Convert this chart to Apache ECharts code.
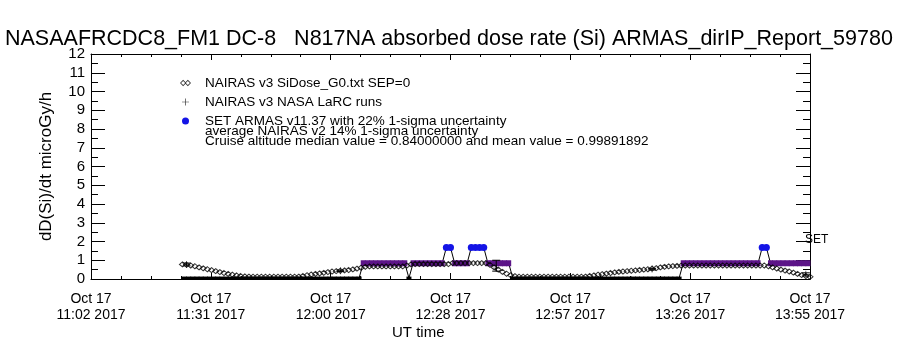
<!DOCTYPE html>
<html>
<head>
<meta charset="utf-8" />
<title>ARMAS dose rate</title>
<script src="https://cdn.jsdelivr.net/npm/echarts@6/dist/echarts.min.js"></script>
<style>
  html, body { margin: 0; padding: 0; background: #fff; }
  #chart { width: 900px; height: 350px; }
</style>
</head>
<body>
<div id="chart"></div>
<script>
// x values are minutes after 11:02 UT
var xTickLabels = ['Oct 17\n11:02 2017', 'Oct 17\n11:31 2017', 'Oct 17\n12:00 2017', 'Oct 17\n12:28 2017',
  'Oct 17\n12:57 2017', 'Oct 17\n13:26 2017', 'Oct 17\n13:55 2017'];
var xSpan = 173;

// NAIRAS v3 SiDose_G0 (one value per minute from minute 22)
var g0Start = 22;
var g0Values = [
  0.78, 0.76, 0.72, 0.68, 0.62, 0.57, 0.52, 0.47, 0.42, 0.37, 0.32, 0.27, 0.23, 0.19, 0.16, 0.14, 0.13,
  0.12, 0.12, 0.12, 0.12, 0.12, 0.12, 0.12, 0.12, 0.12, 0.12, 0.12,
  0.13, 0.16, 0.2, 0.24, 0.27, 0.3, 0.33, 0.37, 0.4, 0.42, 0.44, 0.46, 0.48, 0.51, 0.55, 0.6, 0.65,
  0.67, 0.67, 0.67, 0.67, 0.67, 0.67, 0.67, 0.67, 0.67, 0.72, 0.78,
  0.8, 0.8, 0.8, 0.8, 0.8, 0.8, 0.8, 0.8, 0.8,
  0.85, 0.85, 0.85, 0.85, 0.85, 0.85, 0.85, 0.85, 0.85,
  0.75, 0.62, 0.5, 0.38, 0.28, 0.2, 0.15,
  0.12, 0.12, 0.12, 0.12, 0.12, 0.12, 0.12, 0.12, 0.12, 0.12, 0.12, 0.12, 0.12, 0.12, 0.12, 0.12,
  0.13, 0.16, 0.19, 0.23, 0.26, 0.29, 0.32, 0.35, 0.38, 0.4, 0.42, 0.44, 0.46, 0.48, 0.5, 0.52,
  0.55, 0.58, 0.62, 0.65, 0.67, 0.69, 0.7, 0.71,
  0.72, 0.72, 0.72, 0.72, 0.72, 0.72, 0.72, 0.72, 0.72, 0.72, 0.72, 0.72, 0.72, 0.72, 0.72, 0.72, 0.72, 0.72, 0.72, 0.72,
  0.68, 0.62, 0.56, 0.5, 0.45, 0.4, 0.34, 0.27, 0.21, 0.16, 0.12
];

// NAIRAS v3 NASA LaRC runs
var larcTime = [23, 60, 97.5, 135, 172];
var larcValue = [0.78, 0.44, 0.58, 0.53, 0.25];
var larcLow = [0.7, 0.4, 0.42, 0.48, 0.16];
var larcHigh = [0.85, 0.48, 1.0, 0.57, 0.33];

// SET ARMAS readings (one per minute from minute 22.5)
var setStart = 22.5;
var setValues = [
  0.05, 0.05, 0.05, 0.05, 0.05, 0.05, 0.05, 0.05, 0.05, 0.05, 0.05, 0.05, 0.05, 0.05, 0.05,
  0.05, 0.05, 0.05, 0.05, 0.05, 0.05, 0.05, 0.05, 0.05, 0.05, 0.05, 0.05, 0.05, 0.05, 0.05,
  0.05, 0.05, 0.05, 0.05, 0.05, 0.05, 0.05, 0.05, 0.05, 0.05, 0.05, 0.05, 0.05,
  0.84, 0.84, 0.84, 0.84, 0.84, 0.84, 0.84, 0.84, 0.84, 0.84, 0.84,
  0.05,
  0.84, 0.84, 0.84, 0.84, 0.84, 0.84, 0.84, 0.84,
  1.68, 1.68,
  0.84, 0.84, 0.84, 0.84,
  1.68, 1.68, 1.68, 1.68,
  0.84, 0.84, 0.84, 0.84, 0.84, 0.84,
  0.05, 0.05, 0.05, 0.05, 0.05, 0.05, 0.05, 0.05, 0.05, 0.05, 0.05, 0.05, 0.05, 0.05,
  0.05, 0.05, 0.05, 0.05, 0.05, 0.05, 0.05, 0.05, 0.05, 0.05, 0.05, 0.05, 0.05, 0.05,
  0.05, 0.05, 0.05, 0.05, 0.05, 0.05, 0.05, 0.05, 0.05, 0.05, 0.05, 0.05, 0.05,
  0.84, 0.84, 0.84, 0.84, 0.84, 0.84, 0.84, 0.84, 0.84, 0.84, 0.84, 0.84, 0.84, 0.84, 0.84, 0.84, 0.84, 0.84, 0.84,
  1.68, 1.68,
  0.84, 0.84, 0.84, 0.84, 0.84, 0.84, 0.84, 0.84, 0.84, 0.84
];

var legendNames = ['NAIRAS v3 SiDose_G0.txt SEP=0', 'NAIRAS v3 NASA LaRC runs',
  'SET ARMAS v11.37 with 22% 1-sigma uncertainty'];
var noteLines = ['average NAIRAS v2 14% 1-sigma uncertainty',
  'Cruise altitude median value = 0.84000000 and mean value = 0.99891892'];

var g0Data = g0Values.map(function (v, i) { return [g0Start + i, v]; });
var setData = setValues.map(function (v, i) { return [setStart + i, v]; });
var larcData = larcTime.map(function (t, i) { return [t, larcValue[i]]; });
var larcErr = larcTime.map(function (t, i) { return [t, larcLow[i], larcHigh[i]]; });

var FONT = 'Liberation Sans';
var PURPLE = '#5c1488';
var BLUE = '#1414e6';
var PLUS = 'path://M0,4.5h10v1h-10zM4.5,0h1v10h-1z';
// two hollow diamonds side by side
var DIAMONDS = 'path://M0,4L4,0L8,4L4,8ZM1.4,4L4,6.6L6.6,4L4,1.4ZM6,4L10,0L14,4L10,8ZM7.4,4L10,6.6L12.6,4L10,1.4Z';

var chart = echarts.init(document.getElementById('chart'));

function xAxisDef(pos, showLabels) {
  return {
    type: 'value', position: pos, min: 0, max: xSpan, interval: xSpan / 6,
    axisLine: { show: true, onZero: false, lineStyle: { color: '#000', width: 1 } },
    axisTick: { show: true, inside: true, length: 6, lineStyle: { color: '#000' } },
    minorTick: { show: true, splitNumber: 4, length: 3, lineStyle: { color: '#000' } },
    splitLine: { show: false },
    axisLabel: {
      show: showLabels, color: '#000', fontFamily: FONT, fontSize: 14, lineHeight: 16, margin: 12,
      formatter: function (v) { return xTickLabels[Math.round(v / (xSpan / 6))]; }
    }
  };
}

function yAxisDef(pos, showLabels) {
  return {
    type: 'value', position: pos, min: 0, max: 12, interval: 1,
    name: showLabels ? 'dD(Si)/dt microGy/h' : '', nameLocation: 'middle', nameGap: 36,
    nameTextStyle: { color: '#000', fontFamily: FONT, fontSize: 17 },
    axisLine: { show: true, onZero: false, lineStyle: { color: '#000', width: 1 } },
    axisTick: { show: true, inside: true, length: 14, lineStyle: { color: '#000' } },
    minorTick: { show: true, splitNumber: 2, length: 7, lineStyle: { color: '#000' } },
    splitLine: { show: false },
    axisLabel: { show: showLabels, color: '#000', fontFamily: FONT, fontSize: 15, margin: 6 }
  };
}

chart.setOption({
  backgroundColor: '#fff',
  animation: false,
  title: {
    text: 'NASAAFRCDC8_FM1 DC-8   N817NA absorbed dose rate (Si) ARMAS_dirIP_Report_59780',
    left: 0, top: 23,
    textStyle: { color: '#000', fontFamily: FONT, fontSize: 21.5, fontWeight: 'normal' }
  },
  grid: { left: 91, right: 90, top: 54, bottom: 71 },
  legend: {
    orient: 'vertical', left: 175, top: 71, itemGap: 5, itemWidth: 11, itemHeight: 7,
    textStyle: { color: '#000', fontFamily: FONT, fontSize: 13.5, padding: [0, 0, 0, 9] },
    data: [
      { name: legendNames[0], icon: DIAMONDS, itemStyle: { color: '#000', borderWidth: 0 } },
      { name: legendNames[1], icon: PLUS, itemStyle: { color: '#000' } },
      { name: legendNames[2], icon: 'circle', itemStyle: { color: BLUE } }
    ]
  },
  graphic: [
    { type: 'text', left: 205, top: 124, style: { text: noteLines[0], fill: '#000', font: '13.5px "Liberation Sans"' } },
    { type: 'text', left: 205, top: 134, style: { text: noteLines[1], fill: '#000', font: '13.5px "Liberation Sans"' } },
    { type: 'text', left: 805, top: 234, style: { text: 'SET', fill: '#000', font: '12px "Liberation Sans"' } },
    { type: 'text', left: 392, top: 325, style: { text: 'UT time', fill: '#000', font: '15px "Liberation Sans"' } }
  ],
  xAxis: [xAxisDef('bottom', true), xAxisDef('top', false)],
  yAxis: [yAxisDef('left', true), yAxisDef('right', false)],
  series: [
    {
      name: legendNames[2], type: 'line', data: setData, z: 3,
      symbol: function (d) { return d[1] > 1.2 ? 'circle' : 'rect'; },
      symbolSize: function (d) { return d[1] > 1.2 ? 7 : (d[1] > 0.4 ? [5, 6] : [5, 3]); },
      lineStyle: { color: '#000', width: 1 },
      itemStyle: {
        borderWidth: 0,
        color: function (p) { return p.data[1] > 1.2 ? BLUE : (p.data[1] > 0.4 ? PURPLE : '#000'); }
      }
    },
    {
      name: legendNames[0], type: 'scatter', data: g0Data, z: 4,
      symbol: 'diamond', symbolSize: [6, 5],
      itemStyle: { color: 'rgba(255,255,255,0)', borderColor: '#000', borderWidth: 1 }
    },
    {
      name: legendNames[1], type: 'scatter', data: larcData, z: 5,
      symbol: PLUS, symbolSize: 7,
      itemStyle: { color: '#000' }
    },
    {
      name: legendNames[1], type: 'custom', data: larcErr, z: 5,
      renderItem: function (params, api) {
        var lo = api.coord([api.value(0), api.value(1)]);
        var hi = api.coord([api.value(0), api.value(2)]);
        var w = 4;
        return {
          type: 'group',
          children: [
            { type: 'line', shape: { x1: lo[0], y1: lo[1], x2: hi[0], y2: hi[1] }, style: { stroke: '#000', lineWidth: 1 } },
            { type: 'line', shape: { x1: lo[0] - w, y1: lo[1], x2: lo[0] + w, y2: lo[1] }, style: { stroke: '#000', lineWidth: 1 } },
            { type: 'line', shape: { x1: hi[0] - w, y1: hi[1], x2: hi[0] + w, y2: hi[1] }, style: { stroke: '#000', lineWidth: 1 } }
          ]
        };
      }
    }
  ]
});
</script>
</body>
</html>
